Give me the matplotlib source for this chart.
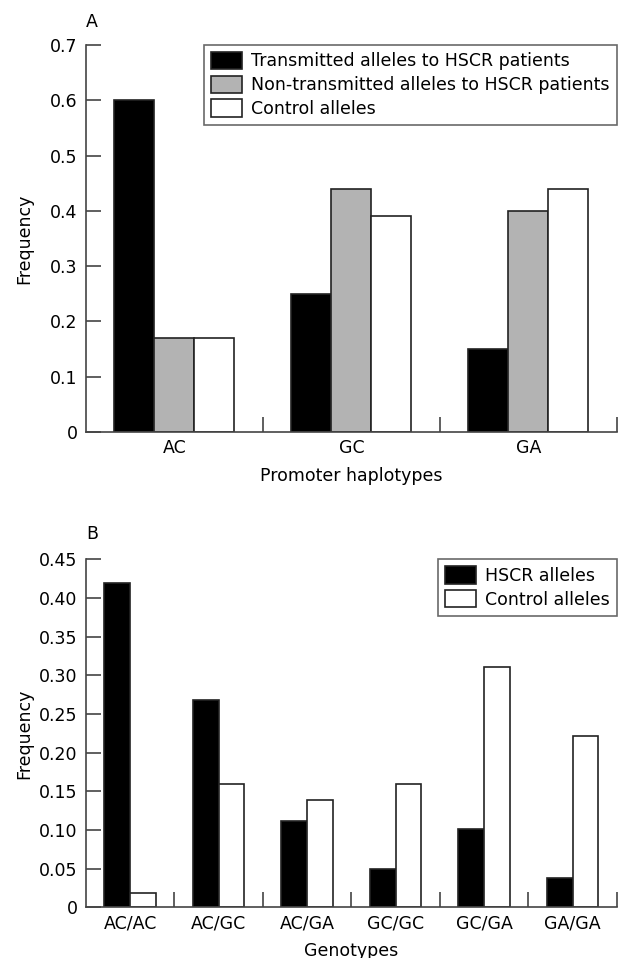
import matplotlib
matplotlib.use("Agg")
import matplotlib.pyplot as plt
import numpy as np

plt.rcParams['font.family'] = ['DejaVu Sans']

# Panel A data
hap_categories = ["AC", "GC", "GA"]
transmitted = [0.60, 0.25, 0.15]
non_transmitted = [0.17, 0.44, 0.40]
control_a = [0.17, 0.39, 0.44]
series_a_labels = ["Transmitted alleles to HSCR patients",
                   "Non-transmitted alleles to HSCR patients",
                   "Control alleles"]
yticks_a = [0, 0.1, 0.2, 0.3, 0.4, 0.5, 0.6, 0.7]
yticklabels_a = ["0", "0.1", "0.2", "0.3", "0.4", "0.5", "0.6", "0.7"]

# Panel B data
geno_categories = ["AC/AC", "AC/GC", "AC/GA", "GC/GC", "GC/GA", "GA/GA"]
hscr = [0.42, 0.268, 0.111, 0.05, 0.101, 0.038]
control_b = [0.018, 0.16, 0.139, 0.16, 0.311, 0.221]
series_b_labels = ["HSCR alleles", "Control alleles"]
yticks_b = [0, 0.05, 0.10, 0.15, 0.20, 0.25, 0.30, 0.35, 0.40, 0.45]
yticklabels_b = ["0", "0.05", "0.10", "0.15", "0.20", "0.25", "0.30", "0.35", "0.40", "0.45"]

FS = 12.5
EDGE = "#222222"
SPINE = "#444444"

fig = plt.figure(figsize=(6.18, 9.58), dpi=100)
axA = fig.add_axes([0.139, 0.549, 0.859, 0.404])
axB = fig.add_axes([0.139, 0.053, 0.859, 0.363])


def style(ax, ncat, yticks, yticklabels, ymax, cats, xlabel):
    ax.set_xlim(0, ncat)
    ax.set_ylim(0, ymax)
    for s in ["top", "right"]:
        ax.spines[s].set_visible(False)
    for s in ["left", "bottom"]:
        ax.spines[s].set_color(SPINE)
        ax.spines[s].set_linewidth(1.2)
    ax.set_yticks(yticks)
    ax.set_yticklabels(yticklabels, fontsize=FS)
    ax.tick_params(axis="y", direction="in", length=10.5, width=1.2, color=SPINE, pad=6)
    ax.set_xticks(np.arange(ncat) + 0.5)
    ax.set_xticklabels(cats, fontsize=FS)
    ax.tick_params(axis="x", which="major", length=0, pad=5)
    ax.set_xticks(np.arange(1, ncat + 1), minor=True)
    ax.tick_params(axis="x", which="minor", direction="in", length=11, width=1.2, color=SPINE)
    ax.set_ylabel("Frequency", fontsize=FS)
    ax.yaxis.set_label_coords(-0.1, 0.5)
    ax.set_xlabel(xlabel, fontsize=FS, labelpad=7)


def legend(ax):
    leg = ax.legend(loc="upper right", bbox_to_anchor=(1.0, 1.0), fontsize=FS, frameon=True,
                    fancybox=False, edgecolor=SPINE, handlelength=1.75, handleheight=1.15,
                    labelspacing=0.3, borderpad=0.4, handletextpad=0.55, borderaxespad=0.0)
    leg.get_frame().set_linewidth(1.2)
    return leg


# Panel A
xa = np.arange(len(hap_categories)) + 0.5
wa = 0.226
axA.bar(xa - wa, transmitted, wa, color="black", edgecolor=EDGE, linewidth=1.2, label=series_a_labels[0])
axA.bar(xa, non_transmitted, wa, color="#b3b3b3", edgecolor=EDGE, linewidth=1.2, label=series_a_labels[1])
axA.bar(xa + wa, control_a, wa, color="white", edgecolor=EDGE, linewidth=1.2, label=series_a_labels[2])
style(axA, 3, yticks_a, yticklabels_a, 0.7, hap_categories, "Promoter haplotypes")
legend(axA)
axA.annotate("A", xy=(0, 1), xycoords="axes fraction", xytext=(0, 16.5),
             textcoords="offset points", fontsize=FS, ha="left", va="center")

# Panel B
xb = np.arange(len(geno_categories)) + 0.5
wb = 0.29
axB.bar(xb - wb / 2, hscr, wb, color="black", edgecolor=EDGE, linewidth=1.2, label=series_b_labels[0])
axB.bar(xb + wb / 2, control_b, wb, color="white", edgecolor=EDGE, linewidth=1.2, label=series_b_labels[1])
style(axB, 6, yticks_b, yticklabels_b, 0.45, geno_categories, "Genotypes")
legend(axB)
axB.annotate("B", xy=(0, 1), xycoords="axes fraction", xytext=(0, 18),
             textcoords="offset points", fontsize=FS, ha="left", va="center")

fig.savefig("out.png", dpi=100)
